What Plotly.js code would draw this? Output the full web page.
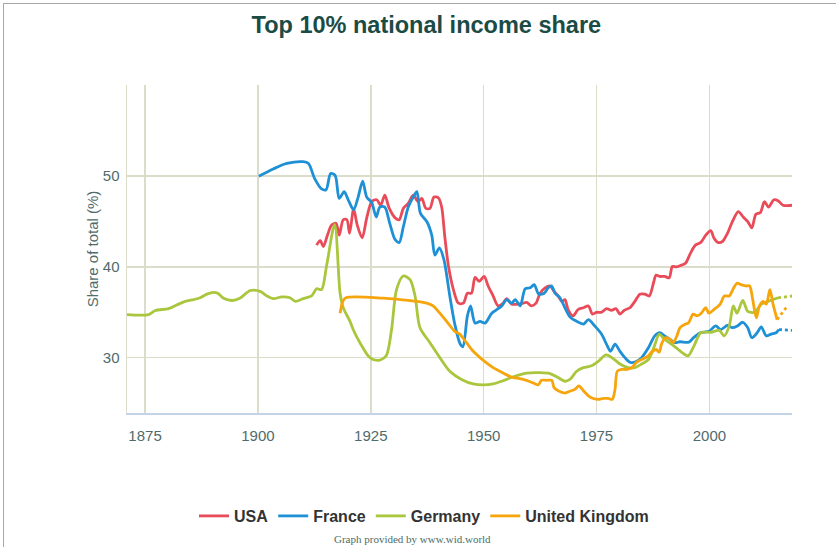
<!DOCTYPE html>
<html>
<head>
<meta charset="utf-8">
<script src="https://cdn.plot.ly/plotly-3.0.1.min.js"></script>
<style>
  html, body { margin: 0; padding: 0; background: #fff; }
  #wrap { position: relative; width: 836px; height: 547px; overflow: hidden; }
  #chart { position: absolute; left: 0; top: 0; width: 836px; height: 547px; }
  #frame { position: absolute; left: 3px; top: 3px; width: 900px; height: 600px;
           border-left: 1px solid #a8a8a8; border-top: 1px solid #a8a8a8; pointer-events: none; }
</style>
</head>
<body>
<div id="wrap"><div id="chart"></div><div id="frame"></div></div>
<script>
// ---------- data ----------
const usaYears = [1913.0,1913.8,1914.5,1915.4,1916.3,1917.3,1918.0,1918.9,1919.7,1920.3,1921.2,1922.0,1923.1,1924.1,1925.2,1926.3,1927.2,1928.1,1929.1,1930.4,1931.3,1932.2,1933.3,1934.4,1935.5,1936.3,1937.2,1938.1,1939.0,1940.0,1940.7,1941.4,1942.2,1943.3,1944.4,1945.5,1946.4,1947.3,1948.1,1949.0,1950.1,1951.0,1952.1,1953.2,1954.3,1955.1,1956.2,1957.7,1958.8,1959.5,1960.6,1961.6,1962.5,1963.6,1964.7,1965.6,1966.5,1967.3,1968.0,1968.7,1969.8,1970.9,1972.1,1973.2,1974.1,1975.0,1976.1,1977.2,1978.3,1979.3,1980.2,1981.1,1982.4,1983.5,1984.6,1985.7,1986.7,1987.6,1988.2,1989.0,1990.1,1991.1,1991.8,1992.7,1993.8,1994.7,1995.8,1996.9,1998.1,1999.2,2000.3,2001.0,2001.9,2002.9,2004.0,2005.1,2006.4,2007.5,2008.5,2009.4,2010.3,2011.3,2012.2,2013.1,2014.3,2015.2,2016.3,2017.4,2018.3];
const usaValues = [42.4,42.9,42.25,43.5,44.6,44.8,43.5,45.2,45.2,43.7,46.4,44.6,43.2,45.4,47.2,47.4,46.8,47.9,46.45,45.4,45.2,46.45,47.0,47.9,47.2,47.55,46.45,46.45,47.7,47.6,46.6,43.3,40.1,37.5,36.0,36.0,37.1,37.1,38.85,38.4,38.95,37.9,36.8,35.7,36.0,36.5,35.9,35.9,36.0,36.1,35.7,36.0,37.1,37.7,37.9,37.3,36.8,36.2,36.4,35.3,34.6,35.3,35.5,35.7,34.8,35.0,35.0,35.4,35.2,35.4,34.8,35.2,35.5,36.2,37.0,37.0,36.8,38.2,39.1,38.95,38.95,38.8,40.05,40.0,40.2,40.4,41.5,42.4,42.7,43.5,44.0,43.2,42.7,42.8,43.7,45.0,46.1,45.5,45.0,44.3,45.8,46.0,47.2,46.6,47.4,47.3,46.8,46.75,46.8];

const franceYears = [1900.2,1903.4,1906.4,1910.0,1911.2,1912.6,1914.1,1915.1,1916.1,1917.1,1918.0,1919.1,1920.0,1921.2,1922.2,1923.2,1924.1,1925.2,1926.2,1927.0,1928.1,1929.2,1930.4,1931.3,1932.2,1933.3,1934.4,1935.2,1936.0,1937.4,1938.5,1939.2,1940.2,1941.2,1942.5,1943.6,1944.8,1945.4,1946.4,1947.1,1948.1,1949.2,1950.3,1951.8,1952.9,1954.0,1955.1,1956.2,1957.0,1958.1,1959.2,1960.3,1961.2,1962.2,1963.4,1964.3,1965.1,1965.8,1966.9,1968.0,1969.1,1970.6,1972.1,1973.2,1974.6,1976.1,1977.2,1978.1,1979.1,1980.2,1981.3,1982.4,1983.5,1985.0,1986.5,1987.9,1989.0,1990.1,1991.3,1992.4,1993.5,1995.4,1996.5,1998.0,1999.9,2001.4,2002.5,2004.0,2005.1,2006.2,2007.4,2008.5,2009.4,2010.6,2011.5,2012.6,2013.7,2014.8,2015.4];
const franceValues = [50.0,50.8,51.4,51.6,51.4,49.7,48.6,48.5,50.3,50.1,47.55,48.3,47.4,46.3,47.7,49.45,47.7,47.1,45.5,46.6,46.6,44.8,43.0,42.7,44.4,46.6,47.7,48.3,45.9,45.0,43.5,41.3,42.1,40.8,36.8,33.7,31.5,31.2,34.6,35.7,33.8,34.0,33.8,34.9,35.3,35.7,36.4,36.0,36.4,35.7,37.6,37.7,38.05,37.0,37.1,37.7,37.9,37.1,36.6,35.5,34.5,34.0,33.7,34.2,33.5,32.6,31.5,30.7,31.5,30.7,30.0,29.5,29.5,30.0,31.1,32.4,32.75,32.4,32.0,31.65,31.75,31.7,32.2,32.75,32.9,33.5,33.1,33.55,33.3,33.5,33.9,33.3,32.2,32.75,33.4,32.4,32.6,32.75,33.1];
const franceProjYears = [2015.4, 2018.3];
const franceProjValues = [33.1, 33.0];

const germanyYears = [1871.0,1875.8,1877.3,1880.2,1882.0,1883.9,1885.8,1887.2,1888.7,1890.2,1891.1,1892.4,1894.3,1896.0,1898.3,1900.5,1902.0,1903.4,1905.3,1907.1,1908.3,1910.0,1911.9,1913.0,1914.1,1915.2,1917.0,1918.2,1918.9,1920.4,1921.1,1922.6,1924.8,1926.7,1928.4,1929.6,1930.7,1932.2,1933.7,1934.8,1935.9,1938.1,1940.3,1942.5,1945.1,1947.7,1949.9,1952.1,1954.3,1956.6,1959.5,1962.5,1964.7,1966.5,1968.0,1969.1,1970.6,1972.1,1973.9,1975.4,1977.1,1978.7,1980.2,1982.0,1983.5,1985.0,1986.5,1987.7,1988.9,1990.1,1991.6,1993.1,1994.1,1995.3,1996.6,1998.1,2000.3,2002.2,2003.3,2004.4,2005.3,2006.1,2007.4,2008.5,2010.0,2011.5,2013.0,2015.2];
const germanyValues = [34.75,34.75,35.2,35.4,35.8,36.2,36.4,36.6,37.0,37.2,37.1,36.55,36.3,36.55,37.4,37.3,36.8,36.5,36.7,36.6,36.2,36.5,36.8,37.6,37.5,40.1,44.7,37.1,35.5,34.0,33.1,31.65,30.0,29.7,30.2,33.1,37.5,39.0,38.6,36.8,33.3,31.65,30.0,28.5,27.6,27.1,27.0,27.1,27.45,27.9,28.3,28.35,28.25,27.8,27.4,27.6,28.5,28.9,29.1,29.6,30.3,29.9,29.3,28.9,28.9,29.3,29.8,31.1,32.6,32.0,31.5,30.9,30.5,30.2,31.3,32.75,32.8,33.0,32.4,33.5,35.7,34.9,36.3,35.1,35.0,35.9,36.2,36.6];
const germanyProjYears = [2015.2, 2018.4];
const germanyProjValues = [36.6, 36.8];

const ukYears = [1918.2,1918.8,1919.5,1927.8,1931.5,1935.2,1937.4,1938.8,1940.3,1941.8,1943.6,1944.7,1946.2,1947.7,1949.2,1950.7,1952.1,1953.6,1955.1,1956.6,1958.0,1959.5,1961.0,1962.1,1962.8,1964.0,1965.1,1965.6,1966.5,1968.0,1969.1,1970.2,1971.1,1972.1,1973.2,1974.3,1975.4,1976.5,1977.6,1978.5,1979.1,1979.6,1980.6,1981.7,1982.8,1983.9,1985.0,1986.2,1987.2,1988.2,1988.9,1989.4,1990.2,1991.1,1992.0,1992.8,1993.5,1994.7,1995.4,1996.4,1997.3,1998.2,1999.2,1999.9,2001.0,2002.4,2003.3,2004.4,2005.4,2006.1,2007.0,2008.1,2008.9,2009.6,2010.4,2011.1,2011.9,2012.6,2013.4,2014.1,2015.0];
const ukValues = [34.9,36.2,36.6,36.55,36.4,36.2,36.0,35.7,34.9,34.0,32.9,32.6,31.65,30.7,30.0,29.4,28.9,28.5,28.1,27.8,27.7,27.5,27.2,27.0,27.5,27.5,27.5,26.7,26.35,26.1,26.3,26.5,26.9,26.35,25.8,25.5,25.4,25.5,25.5,25.4,26.5,28.5,28.7,28.7,28.9,29.5,29.8,30.1,30.6,30.9,30.6,31.5,32.2,32.1,31.65,32.4,33.3,33.7,33.85,34.8,34.6,34.9,35.5,34.9,35.3,35.9,36.8,36.8,37.7,38.2,38.05,37.9,37.9,36.4,34.4,35.7,36.2,35.9,37.5,35.9,34.2];
const ukProjYears = [2015.0, 2016.1, 2017.3];
const ukProjValues = [34.2, 34.9, 35.7];

const seriesNames = ['USA', 'France', 'Germany', 'United Kingdom'];
const seriesColors = ['#e94b59', '#1e90d5', '#a9c63d', '#f6a50c'];
const yTickValues = [30, 40, 50, 60];
const yTickLabels = ['30', '40', '50', ''];
const xTickValues = [1875, 1900, 1925, 1950, 1975, 2000];

// ---------- traces ----------
function solid(name, color, xs, ys) {
  return { type: 'scatter', mode: 'lines', name: name, legendgroup: name,
           x: xs, y: ys, line: { color: color, width: 2.8, shape: 'spline', smoothing: 0.8 },
           hoverinfo: 'skip' };
}
function dotted(name, color, xs, ys) {
  return { type: 'scatter', mode: 'lines', name: name, legendgroup: name, showlegend: false,
           x: xs, y: ys, line: { color: color, width: 2.8, dash: 'dot' }, hoverinfo: 'skip' };
}

const traces = [
  solid(seriesNames[0], seriesColors[0], usaYears, usaValues),
  solid(seriesNames[1], seriesColors[1], franceYears, franceValues),
  solid(seriesNames[2], seriesColors[2], germanyYears, germanyValues),
  solid(seriesNames[3], seriesColors[3], ukYears, ukValues),
  dotted(seriesNames[1], seriesColors[1], franceProjYears, franceProjValues),
  dotted(seriesNames[2], seriesColors[2], germanyProjYears, germanyProjValues),
  dotted(seriesNames[3], seriesColors[3], ukProjYears, ukProjValues)
];

const gridColor = '#dcdccb';
const tickColor = '#4f6b6b';

const layout = {
  width: 836, height: 547,
  margin: { l: 127, r: 44, t: 85, b: 134 },
  paper_bgcolor: '#ffffff', plot_bgcolor: '#ffffff',
  font: { family: 'Liberation Sans, Arial, sans-serif', color: tickColor },
  title: {
    text: 'Top 10% national income share',
    font: { family: 'Liberation Sans, Arial, sans-serif', size: 23.5, color: '#1b4b45', weight: 'bold' },
    x: 0.51, xref: 'container', xanchor: 'center',
    y: 0.954, yref: 'container', yanchor: 'middle'
  },
  xaxis: {
    range: [1871, 2018.3],
    tickvals: xTickValues,
    showgrid: true, gridcolor: gridColor, gridwidth: 1.5,
    zeroline: false,
    showline: true, linecolor: '#c3d3e8', linewidth: 1.5,
    ticks: '', ticklabelstandoff: 8,
    tickfont: { size: 15, color: tickColor },
    fixedrange: true
  },
  yaxis: {
    range: [23.9, 60.05],
    tickvals: yTickValues, ticktext: yTickLabels,
    showgrid: true, gridcolor: gridColor, gridwidth: 1.5,
    zeroline: false,
    showline: true, linecolor: gridColor, linewidth: 1.5,
    ticks: '', ticklabelstandoff: 3,
    tickfont: { size: 15, color: tickColor },
    title: { text: 'Share of total (%)', font: { size: 15, color: tickColor }, standoff: 0 },
    fixedrange: true
  },
  legend: {
    orientation: 'h', x: 0.4466, xanchor: 'center', y: -0.314, yanchor: 'middle',
    font: { family: 'Liberation Sans, Arial, sans-serif', size: 16, color: '#333333', weight: 'bold' },
    bgcolor: 'rgba(0,0,0,0)', itemclick: false, itemdoubleclick: false
  },
  annotations: [{
    text: 'Graph provided by www.wid.world',
    xref: 'paper', yref: 'paper', x: 0.4286, y: -0.384, xanchor: 'center', yanchor: 'middle',
    showarrow: false,
    font: { family: 'Liberation Serif, Times New Roman, serif', size: 11, color: '#4b6d68' }
  }],
  showlegend: true,
  hovermode: false
};

Plotly.newPlot('chart', traces, layout, { staticPlot: true, displayModeBar: false });
</script>
</body>
</html>
